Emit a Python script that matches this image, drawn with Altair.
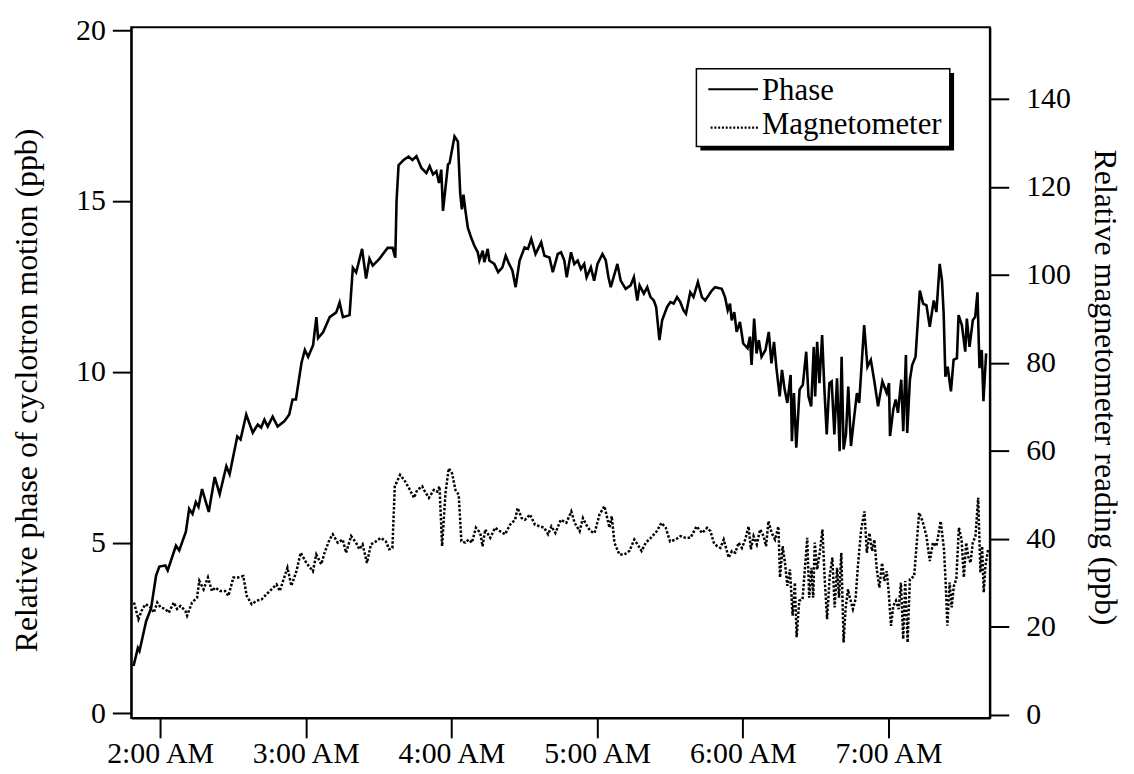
import altair as alt
import pandas as pd

# Time in minutes after midnight, readings in ppb
PHASE_MIN = [
    109.07, 110.87, 111.53, 114.27, 116.32, 118.36, 119.71, 122.17, 123.15, 126.55,
    127.9, 130.64, 131.99, 133.38, 134.73, 135.84, 137.31, 140.06, 142.51, 144.56,
    147.3, 148.65, 151.8, 153.15, 155.49, 158.19, 160.23, 161.63, 162.98, 164.33,
    166.37, 168.42, 171.16, 173.21, 174.56, 175.95, 178.24, 179.63, 180.99, 183.03,
    184.38, 185.08, 187.13, 189.87, 192.57, 193.96, 195.31, 198.05, 199.4, 200.76,
    203.21, 204.85, 206.24, 207.59, 210.33, 213.73, 215.78, 216.88, 217.41, 218.23,
    220.28, 222.33, 223.96, 225.6, 227.65, 229.69, 231.04, 232.43, 233.79, 234.89,
    235.83, 236.53, 238.58, 239.23, 241.28, 242.67, 243.61, 244.3, 244.96, 245.78,
    246.76, 248.11, 249.46, 250.85, 251.51, 252.9, 253.55, 254.95, 255.6, 257.65,
    259.24, 261.0, 262.35, 263.75, 265.1, 266.45, 268.08, 270.13, 271.52, 272.87,
    274.63, 276.97, 278.32, 280.36, 281.75, 283.8, 285.15, 286.5, 287.49, 289.25,
    290.6, 291.99, 293.34, 294.69, 295.67, 297.43, 298.78, 300.17, 302.22, 303.57,
    304.68, 305.62, 308.36, 309.71, 311.76, 313.8, 315.15, 316.55, 317.49, 319.25,
    320.64, 321.99, 323.34, 324.32, 325.67, 326.78, 328.83, 330.18, 331.53, 332.92,
    334.27, 335.62, 336.6, 338.36, 339.71, 341.51, 343.15, 344.5, 347.24, 348.59,
    351.33, 352.68, 353.79, 354.73, 355.43, 356.49, 357.47, 358.83, 360.18, 361.98,
    362.92, 363.62, 364.68, 365.67, 366.6, 367.71, 369.35, 370.7, 371.8, 372.86,
    373.85, 375.2, 376.14, 377.24, 378.35, 379.7, 380.23, 381.05, 382.03, 383.38,
    384.73, 386.12, 387.06, 388.17, 389.23, 389.81, 390.63, 391.57, 392.67, 393.62,
    394.56, 395.66, 396.6, 397.71, 398.81, 399.88, 400.7, 401.52, 402.5, 403.44,
    404.55, 405.9, 407.0, 407.94, 409.99, 411.34, 412.73, 414.08, 415.72, 417.48,
    419.28, 420.22, 420.63, 421.98, 422.97, 423.91, 425.26, 426.08, 427.18, 427.72,
    428.82, 429.76, 431.15, 432.91, 434.26, 435.65, 437.0, 438.64, 439.74, 441.09,
    442.04, 442.73, 443.43, 444.37, 445.72, 446.82, 448.18, 448.87, 450.22, 451.62,
    452.27, 453.38, 454.73, 455.71, 456.65, 457.47, 458.42, 459.11, 460.22,
]
PHASE_PPB = [
    1.39, 1.92, 1.83, 2.7, 3.08, 4.04, 4.3, 4.33, 4.19, 4.91,
    4.77, 5.32, 5.99, 5.84, 6.19, 6.05, 6.57, 5.9, 6.92, 6.42,
    7.24, 7.0, 8.11, 8.02, 8.75, 8.22, 8.46, 8.37, 8.6, 8.4,
    8.69, 8.4, 8.55, 8.75, 9.19, 9.19, 10.26, 10.64, 10.44, 10.78,
    11.6, 10.99, 11.16, 11.6, 11.74, 12.03, 11.6, 11.66, 13.05, 12.91,
    13.6, 12.73, 13.31, 13.11, 13.31, 13.63, 13.63, 13.34, 15.0, 16.05,
    16.2, 16.3, 16.2, 16.31, 15.97, 15.82, 16.02, 15.78, 15.87, 15.53,
    15.92, 14.71, 16.07, 16.11, 16.89, 16.74, 15.24, 14.76, 15.19, 14.71,
    14.22, 13.93, 13.69, 13.5, 13.26, 13.55, 13.21, 13.6, 13.26, 13.16,
    12.92, 13.06, 13.4, 13.16, 12.97, 12.48, 13.26, 13.64, 13.6, 13.89,
    13.45, 13.79, 13.4, 13.35, 12.92, 13.45, 13.5, 13.26, 12.77, 13.5,
    13.16, 13.26, 13.01, 13.16, 12.77, 13.06, 12.67, 13.16, 13.45, 13.26,
    12.77, 12.48, 13.16, 12.67, 12.43, 12.53, 12.77, 12.09, 12.53, 12.29,
    12.48, 12.19, 12.09, 11.9, 10.93, 11.51, 11.9, 12.04, 12.0, 12.19,
    12.04, 11.8, 11.7, 12.33, 12.19, 12.63, 12.19, 12.09, 12.38, 12.48,
    12.43, 12.19, 11.8, 12.0, 11.51, 11.75, 11.17, 11.46, 10.83, 10.69,
    11.03, 10.2, 11.56, 10.54, 10.93, 10.44, 10.64, 11.17, 10.25, 10.88,
    10.11, 9.28, 10.06, 9.48, 9.09, 9.91, 7.97, 9.38, 7.78, 9.48,
    9.62, 10.59, 9.28, 8.99, 10.73, 9.28, 10.88, 9.67, 11.08, 9.48,
    8.17, 9.67, 9.72, 8.17, 9.81, 7.68, 10.44, 7.73, 8.17, 9.57,
    7.83, 8.7, 9.38, 9.09, 11.37, 10.15, 10.35, 9.77, 8.99, 9.72,
    9.38, 9.67, 8.12, 8.9, 9.19, 8.8, 9.77, 8.26, 10.49, 8.21,
    9.77, 10.2, 10.44, 12.38, 12.0, 11.95, 11.32, 12.09, 11.75, 13.16,
    12.67, 11.7, 9.86, 10.15, 9.43, 10.35, 10.4, 11.66, 11.37, 10.59,
    11.56, 10.73, 11.51, 11.61, 12.33, 10.11, 10.64, 9.14, 10.54,
]

MAG_MIN = [
    109.28, 111.08, 112.71, 114.07, 116.11, 117.46, 118.85, 120.2, 122.25, 123.6,
    125.65, 127.04, 128.39, 130.44, 131.13, 133.18, 135.23, 136.17, 137.93, 139.73,
    141.37, 142.72, 144.76, 146.81, 148.16, 150.21, 152.25, 154.3, 155.69, 157.74,
    159.78, 161.83, 163.88, 165.92, 167.97, 169.32, 170.67, 172.47, 174.11, 176.16,
    177.92, 180.25, 182.95, 184.34, 186.39, 187.74, 189.79, 191.14, 193.18, 195.23,
    196.62, 198.67, 200.71, 202.06, 203.42, 205.22, 206.85, 208.9, 210.95, 212.99,
    214.34, 215.69, 216.68, 218.85, 220.48, 222.53, 224.58, 225.93, 227.97, 228.67,
    230.72, 232.76, 234.11, 235.09, 236.16, 237.55, 238.9, 240.25, 241.64, 243.0,
    244.1, 245.74, 247.09, 248.44, 250.08, 251.88, 252.82, 253.92, 255.97, 258.02,
    260.06, 262.11, 264.16, 266.2, 267.27, 268.9, 270.29, 272.34, 274.39, 276.43,
    278.2, 279.83, 281.18, 282.82, 285.03, 287.32, 289.37, 290.76, 292.81, 294.16,
    295.51, 297.31, 298.95, 300.99, 303.04, 305.09, 306.03, 307.13, 309.18, 311.23,
    313.27, 315.32, 316.67, 318.31, 320.07, 322.11, 324.57, 326.49, 328.25, 330.05,
    332.34, 334.39, 336.44, 338.48, 340.94, 343.27, 345.32, 346.67, 348.06, 349.41,
    350.76, 352.15, 354.2, 355.55, 356.9, 358.29, 359.64, 360.99, 362.39, 363.33,
    364.43, 365.78, 367.14, 368.53, 369.59, 370.57, 371.92, 373.27, 374.67, 375.32,
    376.43, 377.37, 378.35, 379.41, 380.52, 381.46, 382.16, 383.26, 384.61, 385.55,
    386.54, 387.35, 388.3, 388.99, 389.65, 390.63, 391.69, 392.8, 393.74, 394.72,
    395.79, 396.89, 397.83, 398.82, 399.63, 400.57, 401.52, 402.33, 403.32, 404.26,
    405.36, 406.43, 407.41, 408.76, 410.11, 411.09, 412.16, 413.26, 414.21, 415.19,
    416.25, 417.36, 418.3, 419.28, 420.1, 421.04, 421.98, 423.09, 424.19, 425.13,
    426.07, 426.89, 427.88, 428.82, 430.58, 432.62, 434.02, 435.65, 437.0, 438.35,
    439.75, 441.5, 442.86, 443.55, 444.25, 445.19, 446.01, 446.95, 447.93, 449.0,
    450.1, 451.04, 452.02, 452.84, 453.78, 454.73, 455.83, 456.94, 457.88, 458.57,
    459.23, 459.92, 461.03,
]
MAG_PPB = [
    25.5, 21.7, 24.0, 25.1, 24.4, 23.2, 25.5, 24.4, 24.0, 23.2,
    25.5, 24.0, 24.7, 23.6, 22.5, 25.5, 26.6, 30.4, 28.5, 31.2,
    28.1, 28.9, 28.1, 28.1, 27.0, 31.2, 31.2, 31.5, 27.0, 25.1,
    25.9, 26.2, 27.4, 28.5, 29.6, 28.1, 30.4, 33.4, 29.3, 32.6,
    36.8, 34.5, 32.6, 36.4, 34.2, 36.8, 39.8, 41.0, 39.1, 39.8,
    36.8, 40.6, 39.1, 37.6, 38.7, 34.5, 38.7, 39.4, 40.2, 39.4,
    37.6, 37.9, 51.9, 54.5, 53.4, 51.5, 49.3, 51.1, 51.9, 51.1,
    49.3, 51.1, 50.7, 51.9, 38.3, 50.4, 56.0, 54.9, 51.1, 50.0,
    39.4, 39.1, 39.8, 39.1, 42.5, 41.3, 38.3, 42.1, 40.2, 42.5,
    41.7, 41.0, 43.2, 44.3, 47.0, 44.7, 44.3, 45.5, 43.2, 42.8,
    42.5, 41.0, 42.8, 41.3, 44.3, 43.6, 46.2, 43.6, 41.7, 44.7,
    43.2, 41.7, 41.3, 45.5, 47.4, 42.5, 45.1, 39.1, 36.4, 36.4,
    37.2, 39.8, 38.7, 37.2, 39.1, 40.2, 41.7, 43.6, 42.5, 39.4,
    39.8, 40.6, 40.2, 40.2, 42.8, 41.3, 42.5, 41.7, 39.1, 38.3,
    37.9, 39.8, 35.7, 37.2, 36.8, 39.1, 37.9, 39.8, 42.8, 37.6,
    40.6, 38.7, 42.1, 40.6, 38.3, 44.0, 41.3, 39.8, 42.8, 31.2,
    38.3, 34.5, 29.3, 33.0, 22.5, 30.0, 17.6, 25.9, 26.2, 33.0,
    40.2, 26.6, 33.4, 26.6, 39.1, 33.0, 36.8, 42.1, 30.8, 21.7,
    31.5, 35.7, 24.4, 33.4, 26.6, 36.8, 16.4, 24.0, 28.5, 26.2,
    24.0, 26.2, 33.8, 42.1, 46.2, 36.8, 41.3, 37.2, 39.8, 33.0,
    28.9, 34.5, 30.4, 32.6, 27.8, 20.2, 24.7, 25.9, 24.0, 30.0,
    17.2, 30.4, 16.4, 30.8, 31.5, 45.9, 44.0, 40.6, 34.9, 39.1,
    38.3, 44.0, 37.6, 30.0, 20.2, 30.0, 24.4, 29.3, 30.8, 42.5,
    39.8, 31.2, 39.1, 36.0, 34.5, 39.1, 40.6, 49.3, 32.3, 38.3,
    27.8, 33.8, 37.6,
]

HOUR_TICKS = [120, 180, 240, 300, 360, 420]
PHASE_TICKS = [0, 5, 10, 15, 20]
MAG_TICKS = [0, 20, 40, 60, 80, 100, 120, 140]
LEGEND_LABELS = ["Phase", "Magnetometer"]
LEFT_TITLE = "Relative phase of cyclotron motion (ppb)"
RIGHT_TITLE = "Relative magnetometer reading (ppb)"

FONT = "Liberation Serif"
FS = 30
TITLE_FS = 32
LEGEND_FS = 31
DOTS = [2.5, 1.8]

phase_df = pd.DataFrame({"t": PHASE_MIN, "v": PHASE_PPB})
mag_df = pd.DataFrame({"t": MAG_MIN, "m": MAG_PPB})
deco = alt.Data(values=[{"k": 0}])

x_enc = alt.X(
    "t:Q",
    scale=alt.Scale(domain=[108.13, 461.75], nice=False, zero=False),
    axis=alt.Axis(
        values=HOUR_TICKS,
        labelExpr="floor(datum.value / 60) + ':00 AM'",
        title=None, grid=False,
        tickSize=20, tickWidth=2, tickColor="black",
        domainColor="black", domainWidth=2,
        labelFont=FONT, labelFontSize=FS, labelColor="black",
        labelPadding=1, labelFlush=False, labelOverlap=False,
    ),
)

phase = alt.Chart(phase_df).mark_line(color="black", strokeWidth=2.6, clip=True).encode(
    x=x_enc,
    y=alt.Y(
        "v:Q",
        scale=alt.Scale(domain=[-0.131, 20.087], nice=False, zero=False),
        axis=alt.Axis(
            orient="left", values=PHASE_TICKS, title=LEFT_TITLE, grid=False,
            tickSize=19, tickWidth=2, tickColor="black",
            domainColor="black", domainWidth=2,
            labelFont=FONT, labelFontSize=FS, labelColor="black", labelPadding=7,
            labelFlush=False,
            titleFont=FONT, titleFontSize=TITLE_FS, titleFontWeight="normal", titleColor="black",
            titleAngle=270, titleX=-95, titleY=365, titleAlign="center",
            titleBaseline="alphabetic",
        ),
    ),
)

mag = alt.Chart(mag_df).mark_line(
    color="black", strokeWidth=2.5, strokeDash=DOTS, clip=True
).encode(
    x=x_enc,
    y=alt.Y(
        "m:Q",
        scale=alt.Scale(domain=[-0.75, 156.27], nice=False, zero=False),
        axis=alt.Axis(
            orient="right", values=MAG_TICKS, title=RIGHT_TITLE, grid=False,
            tickSize=19, tickWidth=2, tickColor="black",
            domainColor="black", domainWidth=2,
            labelFont=FONT, labelFontSize=FS, labelColor="black", labelPadding=17,
            labelFlush=False,
            titleFont=FONT, titleFontSize=TITLE_FS, titleFontWeight="normal", titleColor="black",
            titleAngle=90, titleX=105, titleY=362, titleAlign="center",
            titleBaseline="alphabetic",
        ),
    ),
)

shadow = alt.Chart(deco).mark_rect(color="black").encode(
    x=alt.value(572.7), x2=alt.value(828), y=alt.value(46), y2=alt.value(124)
)
box = alt.Chart(deco).mark_rect(fill="white", stroke="black", strokeWidth=1.5).encode(
    x=alt.value(568.7), x2=alt.value(823.7), y=alt.value(41.7), y2=alt.value(120)
)
sym_solid = alt.Chart(deco).mark_rule(color="black", strokeWidth=2).encode(
    x=alt.value(580.7), x2=alt.value(630.7), y=alt.value(62.3)
)
sym_dot = alt.Chart(deco).mark_rule(color="black", strokeWidth=2.2, strokeDash=[2, 1.8]).encode(
    x=alt.value(583), x2=alt.value(631), y=alt.value(101)
)
lab1 = alt.Chart(deco).mark_text(
    font=FONT, fontSize=LEGEND_FS, align="left", baseline="alphabetic", color="black"
).encode(x=alt.value(634.7), y=alt.value(73.3), text=alt.value(LEGEND_LABELS[0]))
lab2 = alt.Chart(deco).mark_text(
    font=FONT, fontSize=LEGEND_FS, align="left", baseline="alphabetic", color="black"
).encode(x=alt.value(634.7), y=alt.value(107.3), text=alt.value(LEGEND_LABELS[1]))

chart = (
    alt.layer(phase, mag, shadow, box, sym_solid, sym_dot, lab1, lab2)
    .resolve_scale(y="independent")
    .properties(
        width=864,
        height=695,
        autosize=alt.AutoSizeParams(type="none"),
        padding={"left": 124, "top": 17, "right": 137, "bottom": 52},
        background="white",
    )
    .configure_view(stroke="black", strokeWidth=2)
)

chart.save("out.html", embed_options={"renderer": "svg", "actions": False})
